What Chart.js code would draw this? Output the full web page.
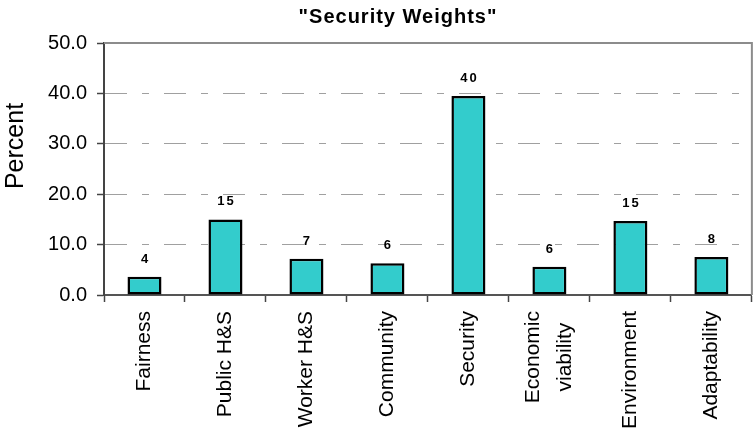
<!DOCTYPE html>
<html>
<head>
<meta charset="utf-8">
<script src="https://cdn.jsdelivr.net/npm/chart.js@4/dist/chart.umd.min.js"></script>
<style>
  html, body { margin: 0; padding: 0; background: #fff; }
  #wrap { width: 753px; height: 429px; }
</style>
</head>
<body>
<div id="wrap"><canvas id="chart" width="753" height="429"></canvas></div>
<script>
const categories = ['Fairness', 'Public H&S', 'Worker H&S', 'Community', 'Security', ['Economic', 'viability'], 'Environment', 'Adaptability'];
const weights = [3.6, 15.0, 7.2, 6.3, 39.5, 5.6, 14.7, 7.55];
const weightLabels = ['4', '15', '7', '6', '40', '6', '15', '8'];
const yTicks = [0, 10, 20, 30, 40, 50];

const FONT = 'Arial, "Liberation Sans", sans-serif';

// title, y axis title, frame and the numbers above the bars
const extras = {
  id: 'extras',
  afterUpdate(chart) {
    // centre the two-line category label on its tick, lines centred on each other
    const { ctx } = chart;
    const items = chart.scales.x.getLabelItems(chart.chartArea);
    items.forEach(it => {
      if (Array.isArray(it.label)) {
        const lh = it.font.lineHeight;
        ctx.save();
        ctx.font = it.font.string;
        const maxW = Math.max(...it.label.map(s => ctx.measureText(s).width));
        ctx.restore();
        it.options.translation[0] -= (it.label.length - 1) * lh / 2;
        it.options.translation[1] += maxW / 2;
        it.options.textAlign = 'center';
      }
    });
  },
  beforeDatasetsDraw(chart) {
    const { ctx, chartArea: a } = chart;
    ctx.save();
    ctx.strokeStyle = '#8c8c8c';
    ctx.lineWidth = 2;
    ctx.beginPath();
    ctx.moveTo(a.left, a.top);
    ctx.lineTo(a.right, a.top);
    ctx.lineTo(a.right, a.bottom);
    ctx.stroke();
    ctx.restore();
  },
  afterDraw(chart) {
    const { ctx } = chart;
    ctx.save();
    ctx.fillStyle = '#000';

    ctx.font = 'bold 20px ' + FONT;
    ctx.letterSpacing = '1px';
    ctx.textAlign = 'center';
    ctx.textBaseline = 'alphabetic';
    ctx.fillText('"Security Weights"', 398, 23);

    ctx.letterSpacing = '0px';
    ctx.font = '25px ' + FONT;
    ctx.translate(23, 146);
    ctx.rotate(-Math.PI / 2);
    ctx.fillText('Percent', 0, 0);
    ctx.setTransform(1, 0, 0, 1, 0, 0);

    ctx.font = 'bold 13px ' + FONT;
    ctx.letterSpacing = '2px';
    const meta = chart.getDatasetMeta(0);
    meta.data.forEach((bar, i) => {
      ctx.fillText(weightLabels[i], bar.x + 1, bar.y - 14);
    });
    ctx.restore();
  }
};

new Chart(document.getElementById('chart'), {
  type: 'bar',
  data: {
    labels: categories,
    datasets: [{
      data: weights,
      backgroundColor: '#33cccc',
      borderColor: '#000',
      borderWidth: 2.5,
      borderSkipped: false,
      barPercentage: 0.42,
      categoryPercentage: 1
    }]
  },
  options: {
    responsive: false,
    animation: false,
    layout: { padding: { top: 43, right: 1, left: 0, bottom: 0 } },
    plugins: {
      legend: { display: false },
      title: { display: false },
      tooltip: { enabled: false }
    },
    scales: {
      x: {
        afterFit(scale) { scale.height = 134; },
        grid: {
          offset: true,
          drawOnChartArea: false,
          tickLength: 7,
          tickColor: '#444',
          tickWidth: 1.5
        },
        border: { color: '#555', width: 2 },
        ticks: {
          minRotation: 90,
          maxRotation: 90,
          padding: 9,
          color: '#000',
          font: { family: FONT, size: 21, lineHeight: 1.55 }
        }
      },
      y: {
        min: 0,
        max: 50,
        afterFit(scale) { scale.width = 104; },
        afterBuildTicks(scale) { scale.ticks = yTicks.map(v => ({ value: v })); },
        grid: {
          color: ctx => (ctx.tick && (ctx.tick.value === 0 || ctx.tick.value === 50)) ? 'rgba(0,0,0,0)' : '#a0a0a0',
          lineWidth: 1,
          tickLength: 7,
          tickColor: '#444',
          tickWidth: 1.5
        },
        border: { color: '#444', width: 2, dash: [22, 15, 7, 15] },
        ticks: {
          padding: 10,
          color: '#000',
          font: { family: FONT, size: 20 },
          callback: v => v.toFixed(1)
        }
      }
    }
  },
  plugins: [extras]
});
</script>
</body>
</html>
